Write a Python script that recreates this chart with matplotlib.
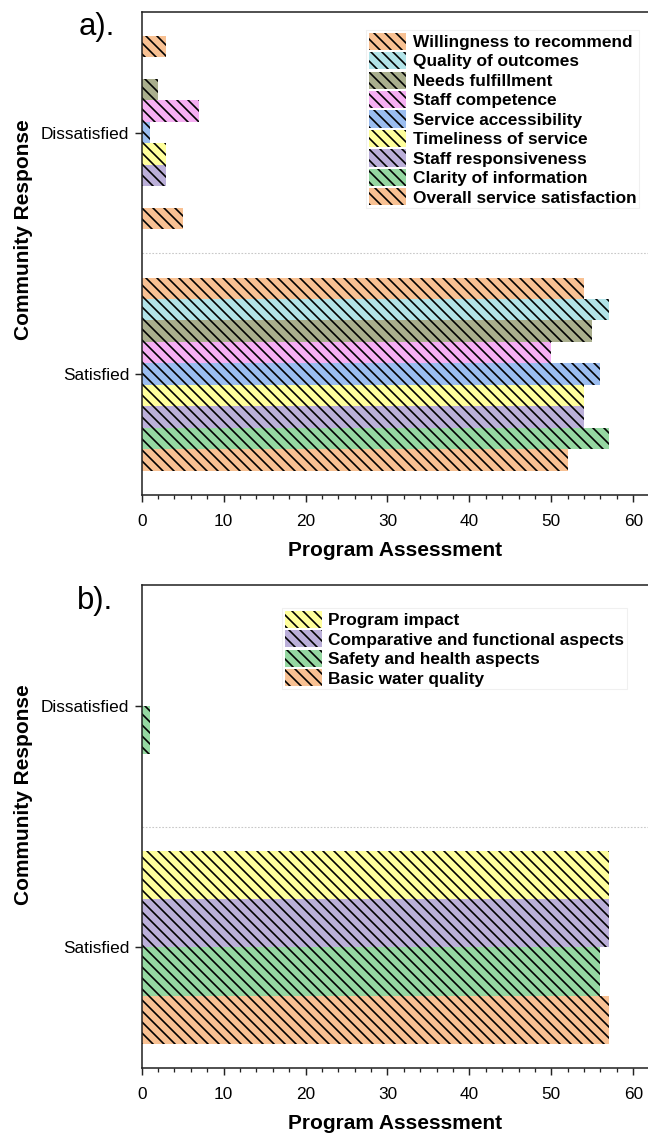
import matplotlib
matplotlib.use("Agg")
import matplotlib.pyplot as plt
from matplotlib.ticker import MultipleLocator

plt.rcParams['font.family'] = ['Liberation Sans', 'DejaVu Sans']
plt.rcParams['hatch.linewidth'] = 0.9

# ---------------- data ----------------
categories = ["Dissatisfied", "Satisfied"]

a_labels = ["Willingness to recommend", "Quality of outcomes", "Needs fulfillment",
            "Staff competence", "Service accessibility", "Timeliness of service",
            "Staff responsiveness", "Clarity of information", "Overall service satisfaction"]
a_dissatisfied = [3, 0, 2, 7, 1, 3, 3, 0, 5]
a_satisfied = [54, 57, 55, 50, 56, 54, 54, 57, 52]
a_colors = ["#F8C193", "#B2E3E8", "#A9AE8D", "#F6AFF3", "#9BBDF0",
            "#FFFF9C", "#BBAFD9", "#95D7A1", "#F8C193"]

b_labels = ["Program impact", "Comparative and functional aspects",
            "Safety and health aspects", "Basic water quality"]
b_dissatisfied = [0, 0, 1, 0]
b_satisfied = [57, 57, 56, 57]
b_colors = ["#FFFF9C", "#BBAFD9", "#95D7A1", "#F8C193"]

x_ticks = [0, 10, 20, 30, 40, 50, 60]

DPI = 132
W, H = 648, 1133
fig = plt.figure(figsize=(W / DPI, H / DPI), dpi=DPI)

def px_box(left, top, right, bottom):
    return [left / W, 1 - bottom / H, (right - left) / W, (bottom - top) / H]

ax_a = fig.add_axes(px_box(141.7, 11.7, 648, 495))
ax_b = fig.add_axes(px_box(141.7, 585, 648, 1068))

def draw(ax, labels, dis, sat, colors, leg_anchor, ylabel_y):
    n = len(labels)
    group = 0.8
    h = group / n
    handles = []
    for i, (lab, d, s, c) in enumerate(zip(labels, dis, sat, colors)):
        off = -group / 2 + (i + 0.5) * h
        bars = ax.barh([0 + off, 1 + off], [d, s], height=h, color=c,
                       edgecolor="black", linewidth=0, hatch="\\\\\\\\", label=lab)
        handles.append(bars)
    ax.set_ylim(1.5, -0.5)
    ax.set_xlim(0, 61.8)
    ax.set_yticks([0, 1])
    ax.set_yticklabels(categories)
    ax.set_xticks(x_ticks)
    ax.xaxis.set_minor_locator(MultipleLocator(2))
    ax.axhline(0.5, color="#c8c8c8", ls=(0, (1.5, 1.5)), lw=0.6, zorder=0)
    for sp in ["left", "bottom", "top"]:
        ax.spines[sp].set_linewidth(0.85)
        ax.spines[sp].set_color("#222222")
    ax.spines["right"].set_visible(False)
    ax.tick_params(axis="both", which="major", direction="out", length=3.8,
                   width=0.8, labelsize=9.4, color="#222222")
    ax.tick_params(axis="x", which="major", pad=6.5)
    ax.tick_params(axis="y", which="major", pad=3)
    ax.tick_params(axis="x", which="minor", direction="out", length=2.2,
                   width=0.7, color="#222222")
    ax.tick_params(axis="y", which="minor", left=False)
    ax.set_xlabel("Program Assessment", fontsize=11.4, fontweight="bold", labelpad=6.5)
    ax.set_ylabel("Community Response", fontsize=11.4, fontweight="bold")
    ax.yaxis.set_label_coords(-0.215, ylabel_y)
    leg = ax.legend(handles=handles, loc="upper left", bbox_to_anchor=leg_anchor,
                    borderaxespad=0, borderpad=0.15, prop={"weight": "bold", "size": 9.4},
                    handlelength=2.2, handleheight=1.15, handletextpad=0.35,
                    labelspacing=0.12, fancybox=False, framealpha=1,
                    edgecolor="#f0f0f0")
    leg.get_frame().set_linewidth(0.6)

draw(ax_a, a_labels, a_dissatisfied, a_satisfied, a_colors, (0.443, 0.962), 0.55)
draw(ax_b, b_labels, b_dissatisfied, b_satisfied, b_colors, (0.277, 0.952), 0.565)

fig.text(97 / W, 1 - 27 / H, "a).", fontsize=17, ha="center", va="center")
fig.text(95 / W, 1 - 601 / H, "b).", fontsize=17, ha="center", va="center")

fig.savefig("out.png", dpi=DPI)
